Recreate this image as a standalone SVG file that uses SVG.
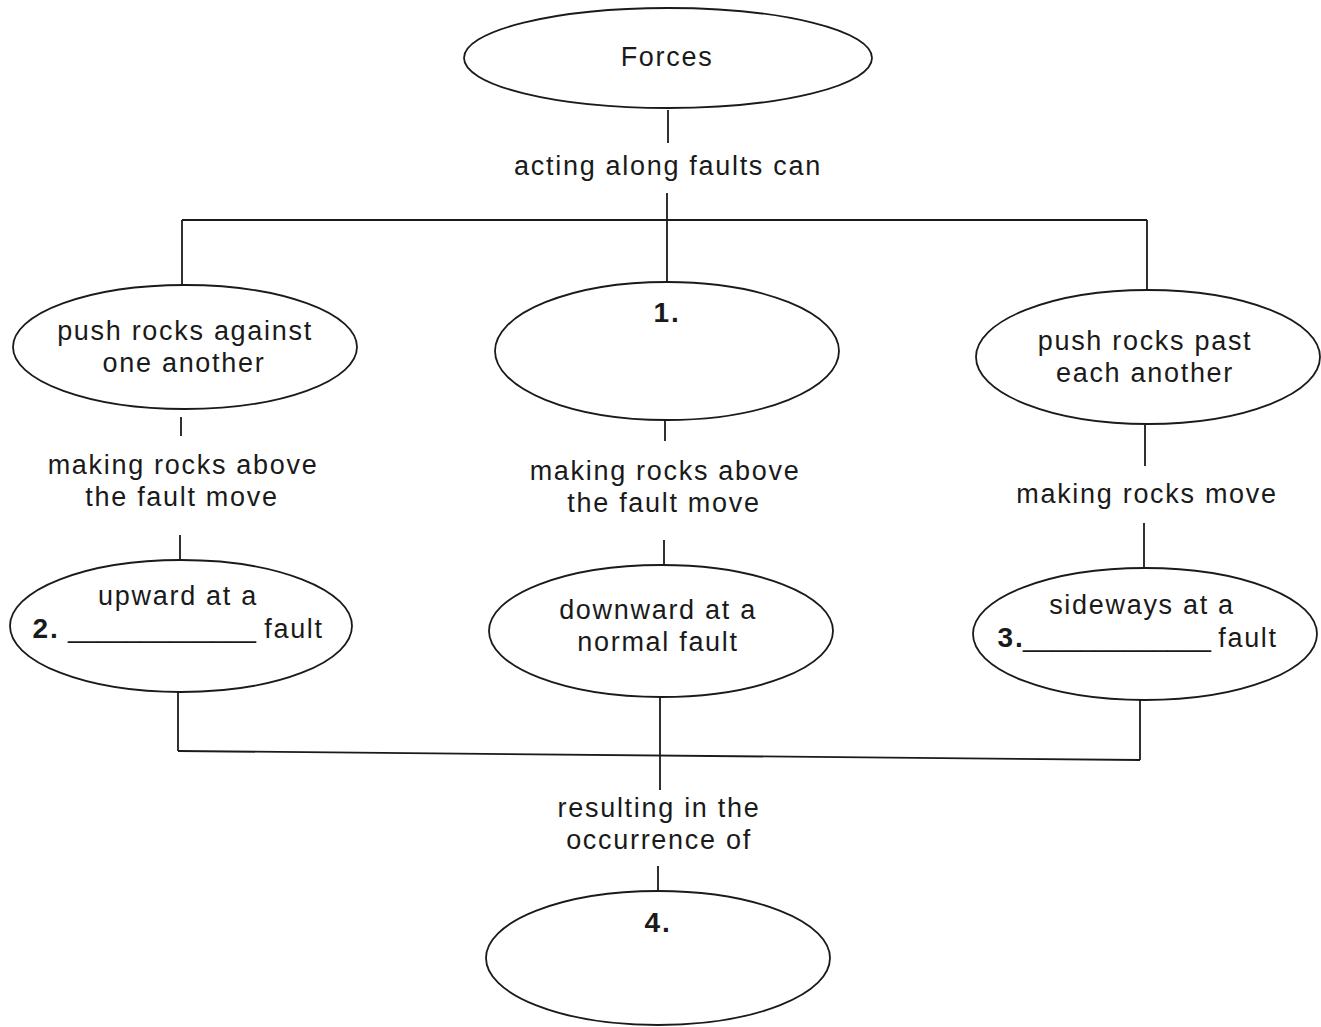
<svg xmlns="http://www.w3.org/2000/svg" width="1321" height="1027" viewBox="0 0 1321 1027">
<style>
.n{fill:#fff;stroke:#1a1a1a;stroke-width:1.8}
.c{stroke:#1a1a1a;stroke-width:1.8;fill:none}
text{font-family:"Liberation Sans",Arial,sans-serif;font-size:27px;fill:#1a1a1a;letter-spacing:1.7px;text-anchor:middle}
.b{font-weight:bold;font-size:28px}
.u{letter-spacing:0;font-size:26px}
</style>
<rect width="1321" height="1027" fill="#fff"/>
<g id="connectors">
<line class="c" x1="668" y1="110" x2="668" y2="143"/>
<line class="c" x1="667" y1="193" x2="667" y2="283"/>
<line class="c" x1="182" y1="220" x2="1147" y2="220"/>
<line class="c" x1="182" y1="220" x2="182" y2="286"/>
<line class="c" x1="1147" y1="220" x2="1147" y2="291"/>
<line class="c" x1="181" y1="417" x2="181" y2="436"/>
<line class="c" x1="180" y1="535" x2="180" y2="560"/>
<line class="c" x1="665" y1="420" x2="665" y2="441"/>
<line class="c" x1="664" y1="540" x2="664" y2="565"/>
<line class="c" x1="1145" y1="425" x2="1145" y2="466"/>
<line class="c" x1="1144" y1="523" x2="1144" y2="568"/>
<line class="c" x1="178" y1="692" x2="178" y2="751"/>
<line class="c" x1="660" y1="697" x2="660" y2="790"/>
<line class="c" x1="1140" y1="700" x2="1140" y2="760"/>
<line class="c" x1="178" y1="751" x2="1140" y2="760"/>
<line class="c" x1="658" y1="866" x2="658" y2="890"/>
</g>
<g id="labels">
<text x="668" y="175">acting along faults can</text>
<text x="183" y="474">making rocks above</text>
<text x="182" y="506">the fault move</text>
<text x="665" y="480">making rocks above</text>
<text x="664" y="512">the fault move</text>
<text x="1147" y="503">making rocks move</text>
<text x="659" y="817">resulting in the</text>
<text x="659" y="849">occurrence of</text>
</g>
<g id="forces">
<ellipse class="n" cx="668" cy="58" rx="204" ry="50"/>
<text x="667" y="66">Forces</text>
</g>
<g id="push-against">
<ellipse class="n" cx="185" cy="347" rx="172" ry="62"/>
<text x="185" y="340">push rocks against</text>
<text x="184" y="372">one another</text>
</g>
<g id="node-1">
<ellipse class="n" cx="667" cy="351" rx="172" ry="69"/>
<text class="b" x="667" y="322">1.</text>
</g>
<g id="push-past">
<ellipse class="n" cx="1148" cy="357" rx="172" ry="67"/>
<text x="1145" y="350">push rocks past</text>
<text x="1145" y="382">each another</text>
</g>
<g id="node-2">
<ellipse class="n" cx="181" cy="626" rx="171" ry="66"/>
<text x="178" y="605">upward at a</text>
<text x="46" y="638" class="b">2.</text>
<text x="162" y="638" class="u">_____________</text>
<text x="294" y="638">fault</text>
</g>
<g id="normal">
<ellipse class="n" cx="661" cy="631" rx="172" ry="66"/>
<text x="658" y="619">downward at a</text>
<text x="658" y="651">normal fault</text>
</g>
<g id="node-3">
<ellipse class="n" cx="1145" cy="634" rx="172" ry="66"/>
<text x="1142" y="614">sideways at a</text>
<text x="1011" y="647" class="b">3.</text>
<text x="1117" y="647" class="u">_____________</text>
<text x="1248" y="647">fault</text>
</g>
<g id="node-4">
<ellipse class="n" cx="658" cy="958" rx="172" ry="67"/>
<text class="b" x="658" y="932">4.</text>
</g>
</svg>
